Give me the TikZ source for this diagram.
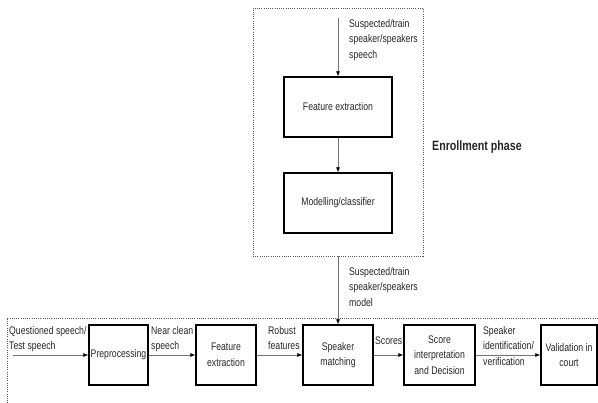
\documentclass[tikz,border=0pt]{standalone}
\usepackage{fontspec}
\setmainfont{Liberation Sans}[FakeStretch=0.79]
\usetikzlibrary{arrows.meta}
\begin{document}
\begin{tikzpicture}[x=1pt,y=-1pt,
  every node/.style={font=\fontsize{11}{15.5}\selectfont, text=black!85},
  blk/.style={draw=black, line width=1.3pt, minimum height=60pt, inner sep=0pt, align=center},
  dotbox/.style={draw=black!65, line width=0.8pt, dash pattern=on 1pt off 1.2pt},
  lbl/.style={anchor=north west, inner sep=0pt, align=left},
  arr/.style={draw=black!55, line width=0.7pt, -{Latex[black,length=5pt,width=4pt]}}
]
\useasboundingbox (0,0) rectangle (598,403);
% enrollment
\node[dotbox, minimum width=170pt, minimum height=248pt, inner sep=0pt] (enr) at (338,132) {};
\node[blk, minimum width=108pt] (fe1) at (338,107) {Feature extraction};
\node[blk, minimum width=108pt] (mc) at (338,203) {Modelling/classifier};
\coordinate (in1) at (338,18);
\node[lbl] (l1) at (349,19) {Suspected/train\\speaker/speakers\\speech};
\node[anchor=west, inner sep=0pt, font=\fontsize{13.5}{15}\selectfont\bfseries] (ep) at (432,147) {Enrollment phase};
\draw[arr] (in1) -- (fe1);
\draw[arr] (fe1) -- (mc);
% testing phase
\draw[dotbox] (598,318) -- (7,318) -- (7,403);
\node[blk, minimum width=59pt] (pre) at (118.5,355) {Preprocessing};
\node[blk, minimum width=60pt] (fe2) at (226,355) {Feature\\extraction};
\node[blk, minimum width=70pt] (sm) at (338,355) {Speaker\\matching};
\node[blk, minimum width=71pt] (sid) at (439.5,355) {Score\\interpretation\\and Decision};
\node[blk, minimum width=56pt] (val) at (569,355) {Validation in\\court};
\coordinate (in2) at (13,355);
\draw[arr] (in2) -- (pre);
\draw[arr] (pre) -- (fe2);
\draw[arr] (fe2) -- (sm);
\draw[arr] (sm) -- (sid);
\draw[arr] (sid) -- (val);
\draw[arr] (enr.south) -- (sm);
\node[lbl] (l2) at (349,267) {Suspected/train\\speaker/speakers\\model};
\node[lbl] (l3) at (9,326) {Questioned speech/\\Test speech};
\node[lbl] (l4) at (151,326) {Near clean\\speech};
\node[lbl] (l5) at (268,326) {Robust\\features};
\node[lbl] (l6) at (375,337) {Scores};
\node[lbl] (l7) at (483,326) {Speaker\\identification/\\verification};
\end{tikzpicture}
\end{document}
